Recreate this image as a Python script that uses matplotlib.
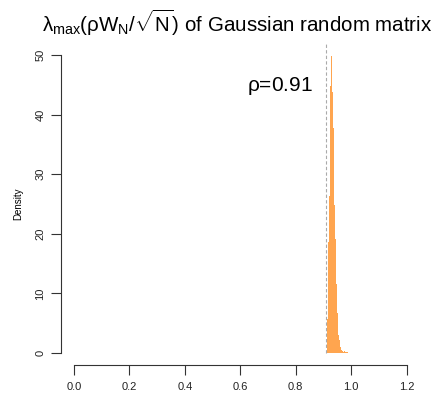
import matplotlib
matplotlib.use('Agg')
import matplotlib.pyplot as plt
import numpy as np

plt.rcParams['font.family'] = ['Liberation Sans', 'DejaVu Sans']
plt.rcParams['mathtext.fontset'] = 'custom'
plt.rcParams['mathtext.rm'] = 'Liberation Sans'
plt.rcParams['mathtext.it'] = 'Liberation Sans'
plt.rcParams['mathtext.bf'] = 'Liberation Sans:bold'

# histogram of largest eigenvalue (density per bin), bins of width 0.0036 from 0.9127
bin_start = 0.9127
bin_width = 0.0036
density = [5.7, 18.7, 26.3, 44.8, 49.8, 43.8, 37.8, 24.8, 19.1, 11.6,
           6.7, 3.0, 2.2, 1.0, 0.5, 0.3, 0.2, 0.3, 0.1, 0.2, 0.1]
rho = 0.91

x_ticks = [0.0, 0.2, 0.4, 0.6, 0.8, 1.0, 1.2]
y_ticks = [0, 10, 20, 30, 40, 50]

fig = plt.figure(figsize=(4.39, 3.95), dpi=100)
ax = fig.add_axes([0.1383, 0.0759, 0.8184, 0.8152])

lefts = bin_start + bin_width * np.arange(len(density))
ax.bar(lefts, density, width=bin_width, align='edge', color='#FFA54F',
       edgecolor='none', linewidth=0)

ax.vlines(rho, 0, 52, colors='#aaaaaa', linestyles=(0, (3, 2)), linewidth=0.8)
ax.text(0.862, 44.8, r'$\rho$=0.91', ha='right', va='center', fontsize=15)

ax.set_xlim(-0.048, 1.248)
ax.set_ylim(-2, 52)

for s in ['top', 'right']:
    ax.spines[s].set_visible(False)
ax.spines['left'].set_bounds(0, 50)
ax.spines['bottom'].set_bounds(0, 1.2)
for s in ['left', 'bottom']:
    ax.spines[s].set_color('#333333')
    ax.spines[s].set_linewidth(0.8)

ax.set_xticks(x_ticks)
ax.set_xticklabels(['%.1f' % v for v in x_ticks])
ax.set_yticks(y_ticks)
ax.set_yticklabels([str(v) for v in y_ticks], rotation=90, va='center')
ax.tick_params(length=7, width=0.8, color='#333333', labelsize=8, labelcolor='#222222')
ax.tick_params(axis='x', pad=5)
ax.tick_params(axis='y', pad=4)

ax.set_ylabel('Density', fontsize=7, labelpad=9)

fig.suptitle(r'$\lambda_{\mathrm{max}}(\rho \mathrm{W}_{\mathrm{N}}/\sqrt{\mathrm{N}})$ of Gaussian random matrix',
             x=0.54, y=0.98, fontsize=14.8)

fig.savefig('out.png', dpi=100)
